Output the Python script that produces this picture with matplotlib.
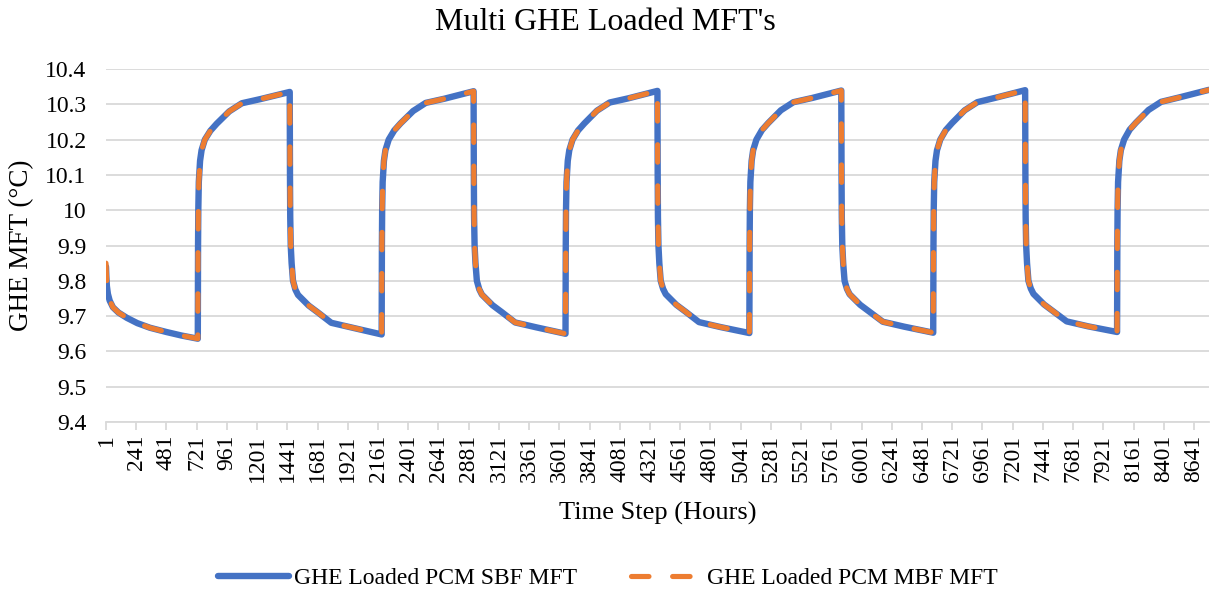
import matplotlib
matplotlib.use("Agg")
import matplotlib.pyplot as plt
from matplotlib.lines import Line2D

plt.rcParams['font.family'] = ['Liberation Serif', 'DejaVu Serif']

# ---- data (hour, MFT in degC) ----
hours = [
    1, 4, 8, 16, 30, 56, 100, 167, 250, 350, 480, 600, 730,
    732, 734, 738, 748, 760, 786, 830, 880, 980, 1080, 1230, 1460,
    1462, 1464, 1468, 1475, 1486, 1505, 1526, 1610, 1685, 1790, 1960, 2190,
    2192, 2194, 2198, 2208, 2220, 2246, 2290, 2340, 2440, 2540, 2690, 2920,
    2922, 2924, 2928, 2935, 2946, 2965, 2986, 3070, 3145, 3250, 3420, 3650,
    3652, 3654, 3658, 3668, 3680, 3706, 3750, 3800, 3900, 4000, 4150, 4380,
    4382, 4384, 4388, 4395, 4406, 4425, 4446, 4530, 4605, 4710, 4880, 5110,
    5112, 5114, 5118, 5128, 5140, 5166, 5210, 5260, 5360, 5460, 5610, 5840,
    5842, 5844, 5848, 5855, 5866, 5885, 5906, 5990, 6065, 6170, 6340, 6570,
    6572, 6574, 6578, 6588, 6600, 6626, 6670, 6720, 6820, 6920, 7070, 7300,
    7302, 7304, 7308, 7315, 7326, 7345, 7366, 7450, 7525, 7630, 7800, 8030,
    8032, 8034, 8038, 8048, 8060, 8086, 8130, 8180, 8280, 8380, 8530, 8760,
]

sbf_mft = [
    9.84, 9.81, 9.785, 9.763, 9.744, 9.725, 9.71, 9.695, 9.68, 9.667, 9.655, 9.645, 9.636,
    9.90, 10.00, 10.08, 10.14, 10.17, 10.20, 10.225, 10.245, 10.28, 10.303, 10.315, 10.335,
    10.10, 9.98, 9.90, 9.85, 9.80, 9.775, 9.76, 9.73, 9.71, 9.681, 9.667, 9.648,
    9.90, 10.00, 10.08, 10.14, 10.17, 10.20, 10.226, 10.246, 10.281, 10.304, 10.316, 10.337,
    10.10, 9.98, 9.90, 9.85, 9.80, 9.776, 9.761, 9.731, 9.711, 9.682, 9.668, 9.650,
    9.90, 10.00, 10.08, 10.14, 10.17, 10.20, 10.226, 10.246, 10.282, 10.305, 10.317, 10.338,
    10.10, 9.98, 9.90, 9.85, 9.80, 9.777, 9.762, 9.732, 9.712, 9.683, 9.669, 9.652,
    9.90, 10.00, 10.08, 10.14, 10.17, 10.20, 10.227, 10.247, 10.283, 10.306, 10.318, 10.339,
    10.10, 9.98, 9.90, 9.85, 9.80, 9.777, 9.762, 9.732, 9.712, 9.684, 9.670, 9.653,
    9.90, 10.00, 10.08, 10.14, 10.17, 10.20, 10.227, 10.247, 10.283, 10.306, 10.319, 10.340,
    10.10, 9.98, 9.90, 9.85, 9.80, 9.778, 9.763, 9.733, 9.713, 9.685, 9.671, 9.655,
    9.90, 10.00, 10.08, 10.14, 10.17, 10.20, 10.228, 10.248, 10.284, 10.307, 10.320, 10.341,
]

mbf_mft = [
    9.85, 9.82, 9.79, 9.765, 9.745, 9.725, 9.71, 9.695, 9.68, 9.667, 9.655, 9.645, 9.636,
] + sbf_mft[13:]

series_names = ["GHE Loaded PCM SBF MFT", "GHE Loaded PCM MBF MFT"]

xtick_values = [1, 241, 481, 721, 961, 1201, 1441, 1681, 1921, 2161, 2401, 2641,
                2881, 3121, 3361, 3601, 3841, 4081, 4321, 4561, 4801, 5041, 5281,
                5521, 5761, 6001, 6241, 6481, 6721, 6961, 7201, 7441, 7681, 7921,
                8161, 8401, 8641]
ytick_values = [9.4, 9.5, 9.6, 9.7, 9.8, 9.9, 10.0, 10.1, 10.2, 10.3, 10.4]
ytick_labels = ["9.4", "9.5", "9.6", "9.7", "9.8", "9.9", "10", "10.1", "10.2", "10.3", "10.4"]

title = "Multi GHE Loaded MFT's"
xlabel = "Time Step (Hours)"
ylabel = "GHE MFT (°C)"

# ---- figure ----
W, H = 1214, 594
fig = plt.figure(figsize=(W / 100, H / 100), dpi=100)
ax = fig.add_axes([106 / W, 1 - 422 / H, (1209 - 106) / W, (422 - 69) / H])

blue = "#4472C4"
orange = "#ED7D31"
grid = "#D9D9D9"

ax.plot(hours, sbf_mft, color=blue, lw=4.6, solid_joinstyle='round',
        solid_capstyle='round', zorder=3)
ax.plot(hours, mbf_mft, color=orange, lw=3.7, dashes=(3.4, 4.6),
        dash_capstyle='round', dash_joinstyle='round', zorder=4)

ax.set_xlim(1, 8760)
ax.set_ylim(9.4, 10.4)
ax.set_yticks(ytick_values)
ax.set_yticklabels(ytick_labels)
ax.set_xticks(xtick_values)
ax.set_xticklabels([str(v) for v in xtick_values], rotation=90)

ax.grid(axis='y', color=grid, lw=1.3)
ax.set_axisbelow(True)
for s in ['top', 'right', 'left']:
    ax.spines[s].set_visible(False)
ax.spines['bottom'].set_color(grid)
ax.spines['bottom'].set_linewidth(1.3)
ax.tick_params(axis='y', length=0, pad=14, labelsize=17)
ax.tick_params(axis='x', length=6, width=1.3, color=grid, pad=3, labelsize=17)

fig.text(605 / W, 1 - 22 / H, title, ha='center', va='center', fontsize=23)
ax.set_xlabel(xlabel, fontsize=19, labelpad=14)
ax.set_ylabel(ylabel, fontsize=19.5, labelpad=8)

handles = [Line2D([], [], color=blue, lw=4.6, solid_capstyle='round'),
           Line2D([], [], color=orange, lw=3.7, dashes=(3.4, 4.6), dash_capstyle='round')]
fig.legend(handles, series_names, loc='center', bbox_to_anchor=(608 / W, 1 - 578 / H),
           ncol=2, frameon=False, fontsize=17, handlelength=3.0, handletextpad=0.2,
           columnspacing=2.3)

fig.savefig("out.png", dpi=100)
